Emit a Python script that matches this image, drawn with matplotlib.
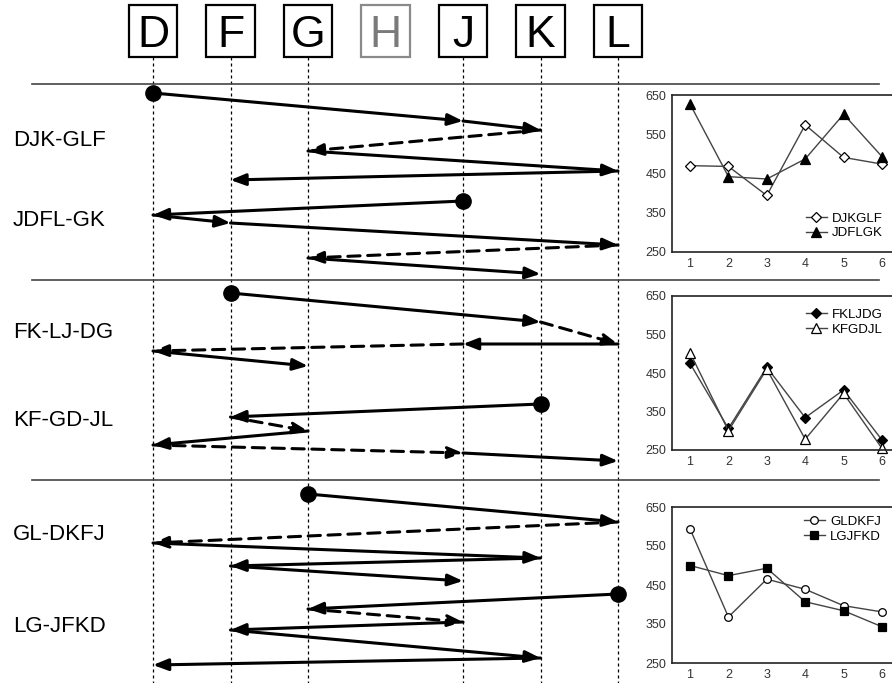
import matplotlib.pyplot as plt
from matplotlib.patches import Rectangle

plt.rcParams['font.family'] = ['Liberation Sans', 'DejaVu Sans']

# column letters across the top (H has no guide line)
cols = ['D', 'F', 'G', 'H', 'J', 'K', 'L']

# sequences: "-" in the name marks a dashed step
seq_names = ['DJK-GLF', 'JDFL-GK', 'FK-LJ-DG', 'KF-GD-JL', 'GL-DKFJ', 'LG-JFKD']
seq_t = [
    [93, 121, 130, 151, 171, 180],
    [201, 215, 223, 245, 258, 274],
    [293, 322, 344, 344, 351, 366],
    [404, 417, 431, 445, 453, 461],
    [494, 522, 543, 558, 566, 581],
    [594, 609, 622, 630, 658, 665],
]
label_t = [140, 220, 333, 420, 534, 627]
sep_t = [84, 280, 480]

# small line charts on the right
trial = [1, 2, 3, 4, 5, 6]
djkglf = [470, 468, 394, 574, 491, 474]
jdflgk = [627, 442, 436, 487, 601, 493]
fkljdg = [475, 306, 465, 334, 406, 276]
kfgdjl = [503, 300, 460, 278, 397, 254]
gldkfj = [594, 368, 465, 439, 397, 381]
lgjfkd = [500, 474, 493, 407, 384, 343]

fig = plt.figure(figsize=(8.92, 6.83), dpi=100)
ax = fig.add_axes([0, 0, 1, 1])
ax.set_xlim(-153 / 77.5, (892 - 153) / 77.5)
ax.set_ylim(683, 0)
ax.axis('off')

# header boxes + vertical guides
for i, c in enumerate(cols):
    ec = '#8a8a8a' if c == 'H' else 'black'
    ax.add_patch(Rectangle((i - 0.316, 5), 0.632, 52, fill=False, ec=ec, lw=1.6))
    ax.text(i, 47, c, ha='center', va='baseline', fontsize=32, color=('#7a7a7a' if c == 'H' else 'black'))
    if c != 'H':
        ax.plot([i, i], [57, 683], color='k', lw=0.9, ls=(0, (2.4, 2.4)), zorder=1)

for y in sep_t:
    ax.plot([-1.56, 9.37], [y, y], color='#444444', lw=1.2)

# zigzag arrows
for name, t, ly in zip(seq_names, seq_t, label_t):
    letters = name.replace('-', '')
    dashed = []
    prev_dash = False
    for ch in name[1:]:
        if ch == '-':
            prev_dash = True
        else:
            dashed.append(prev_dash)
            prev_dash = False
    xs = [cols.index(c) for c in letters]
    ax.plot(xs[0], t[0], 'o', ms=11, color='k', zorder=5)
    for j in range(len(xs) - 1):
        ls = (0, (4, 2.5)) if dashed[j] else '-'
        ax.annotate('', xy=(xs[j + 1], t[j + 1]), xytext=(xs[j], t[j]),
                    arrowprops=dict(arrowstyle='-|>,head_length=0.9,head_width=0.35',
                                    lw=2.2, ls=ls, color='k', shrinkA=0, shrinkB=0,
                                    mutation_scale=10), zorder=4)
    ax.text(-1.81, ly, name, fontsize=16, ha='left', va='center')

# right panels
panels = [(95, 252), (296, 450), (507, 663)]
series = [
    [(djkglf, 'DJKGLF', 'D', 5, 'white'), (jdflgk, 'JDFLGK', '^', 7, 'black')],
    [(fkljdg, 'FKLJDG', 'D', 5.5, 'black'), (kfgdjl, 'KFGDJL', '^', 6.5, 'white')],
    [(gldkfj, 'GLDKFJ', 'o', 5.5, 'white'), (lgjfkd, 'LGJFKD', 's', 6, 'black')],
]
leg_pos = [(0.60, 0.166), (0.60, 0.83), (0.59, 0.859)]

for (top, bot), ser, lp in zip(panels, series, leg_pos):
    axp = fig.add_axes([672 / 892, 1 - bot / 683, 223 / 892, (bot - top) / 683])
    for vals, lab, mk, ms, fc in ser:
        axp.plot(trial, vals, color='#444444', lw=1, marker=mk, ms=ms, mfc=fc,
                 mec='black', mew=0.9, label=lab, clip_on=False)
    axp.set_xlim(0.531, 6.339)
    axp.set_ylim(250, 650)
    axp.set_xticks(trial)
    axp.set_yticks([250, 350, 450, 550, 650])
    axp.tick_params(length=0, labelsize=9, colors='#333333', pad=4)
    for sp in axp.spines.values():
        sp.set_linewidth(1.2)
        sp.set_color('#222222')
    axp.legend(loc='center left', bbox_to_anchor=lp, frameon=False, fontsize=9.5,
               borderpad=0, borderaxespad=0, handlelength=1.6, handletextpad=0.4,
               labelspacing=0.2)

plt.savefig('out.png', dpi=100)
